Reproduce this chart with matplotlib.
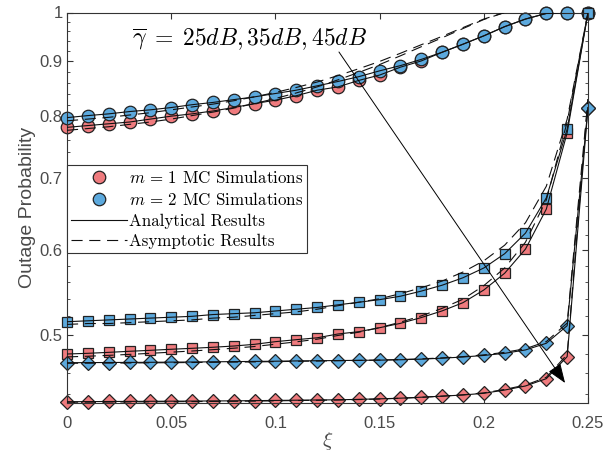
import matplotlib
matplotlib.use("Agg")
import matplotlib.pyplot as plt
from matplotlib.lines import Line2D
from matplotlib.ticker import FixedLocator, NullFormatter

plt.rcParams['mathtext.fontset'] = 'cm'
plt.rcParams['axes.unicode_minus'] = False

# xi grid
xi = [0.00, 0.01, 0.02, 0.03, 0.04, 0.05, 0.06, 0.07, 0.08, 0.09, 0.10, 0.11, 0.12,
      0.13, 0.14, 0.15, 0.16, 0.17, 0.18, 0.19, 0.20, 0.21, 0.22, 0.23, 0.24, 0.25]

# 25 dB (circles)
c25_m1 = [0.781, 0.784, 0.787, 0.790, 0.795, 0.800, 0.804, 0.809, 0.815, 0.822, 0.828, 0.836, 0.846,
          0.852, 0.864, 0.874, 0.889, 0.901, 0.918, 0.934, 0.951, 0.970, 0.986, 0.998, 1.0, 1.0]
c25_m2 = [0.7975, 0.801, 0.804, 0.808, 0.811, 0.815, 0.820, 0.824, 0.829, 0.834, 0.840, 0.846, 0.854,
          0.862, 0.871, 0.882, 0.892, 0.904, 0.918, 0.934, 0.951, 0.970, 0.986, 0.998, 1.0, 1.0]
a25_m1 = [0.776, 0.779, 0.782, 0.786, 0.790, 0.795, 0.801, 0.807, 0.814, 0.822, 0.831, 0.841, 0.852,
          0.865, 0.879, 0.894, 0.911, 0.929, 0.947, 0.966, 0.985, 1.0, 1.0, 1.0, 1.0, 1.0]
a25_m2 = [0.792, 0.795, 0.798, 0.802, 0.806, 0.811, 0.816, 0.821, 0.827, 0.834, 0.842, 0.851, 0.861,
          0.873, 0.886, 0.900, 0.916, 0.933, 0.950, 0.968, 0.986, 1.0, 1.0, 1.0, 1.0, 1.0]

# 35 dB (squares)
c35_m1 = [0.4795, 0.4802, 0.4812, 0.4823, 0.4833, 0.4844, 0.4854, 0.4865, 0.4878, 0.4896, 0.4924, 0.4945, 0.4965,
          0.5006, 0.5031, 0.5074, 0.5122, 0.5186, 0.5261, 0.5355, 0.5503, 0.5705, 0.6010, 0.6550, 0.7719, 1.0]
c35_m2 = [0.514, 0.515, 0.516, 0.517, 0.518, 0.519, 0.520, 0.522, 0.523, 0.524, 0.526, 0.528, 0.530,
          0.533, 0.536, 0.539, 0.543, 0.549, 0.556, 0.565, 0.577, 0.595, 0.622, 0.671, 0.778, 1.0]
a35_m1 = [0.4765, 0.4772, 0.4781, 0.4791, 0.4802, 0.4814, 0.4826, 0.4840, 0.4855, 0.4873, 0.4897, 0.4922, 0.4950,
          0.4990, 0.5025, 0.5075, 0.5135, 0.5205, 0.5290, 0.5395, 0.5555, 0.5770, 0.6100, 0.6680, 0.7900, 1.0]
a35_m2 = [0.511, 0.512, 0.512, 0.513, 0.514, 0.515, 0.516, 0.518, 0.519, 0.521, 0.523, 0.525, 0.528,
          0.532, 0.536, 0.540, 0.546, 0.553, 0.561, 0.572, 0.586, 0.606, 0.636, 0.688, 0.795, 1.0]

# 45 dB (diamonds)
c45_m1 = [0.4327, 0.4328, 0.4329, 0.4330, 0.4331, 0.4332, 0.4333, 0.4334, 0.4335, 0.4337, 0.4339, 0.4341, 0.4343,
          0.4345, 0.4349, 0.4354, 0.4360, 0.4369, 0.4379, 0.4390, 0.4406, 0.4437, 0.4476, 0.4547, 0.4768, 0.815]
c45_m2 = [0.4706, 0.4707, 0.4708, 0.4709, 0.4710, 0.4712, 0.4713, 0.4715, 0.4717, 0.4719, 0.4721, 0.4724, 0.4726,
          0.4728, 0.4730, 0.4732, 0.4736, 0.4742, 0.4752, 0.4764, 0.4780, 0.4802, 0.4837, 0.4907, 0.5096, 0.815]
a45_m1 = [0.4322, 0.4323, 0.4324, 0.4325, 0.4326, 0.4327, 0.4328, 0.4330, 0.4331, 0.4333, 0.4335, 0.4338, 0.4340,
          0.4343, 0.4347, 0.4352, 0.4359, 0.4368, 0.4379, 0.4392, 0.4410, 0.4443, 0.4485, 0.4560, 0.4790, 0.830]
a45_m2 = [0.4700, 0.4701, 0.4702, 0.4703, 0.4705, 0.4706, 0.4708, 0.4710, 0.4712, 0.4714, 0.4717, 0.4720, 0.4723,
          0.4726, 0.4729, 0.4733, 0.4738, 0.4745, 0.4755, 0.4768, 0.4786, 0.4812, 0.4850, 0.4925, 0.5125, 0.830]

xticks = [0, 0.05, 0.1, 0.15, 0.2, 0.25]
xticklabels = ['0', '0.05', '0.1', '0.15', '0.2', '0.25']
yticks = [0.5, 0.6, 0.7, 0.8, 0.9, 1.0]
yticklabels = ['0.5', '0.6', '0.7', '0.8', '0.9', '1']

red = '#EF7B7E'
blue = '#5CA9DD'
grey = '#4a4a4a'
dash = (10, 6)

fig = plt.figure(figsize=(6.03, 4.51), dpi=100)
ax = fig.add_axes([67/603, 1 - 403/451, 521/603, 390.5/451])
ax.set_yscale('log')

groups = [
    (c25_m1, c25_m2, a25_m1, a25_m2, 'o', 9.0),
    (c35_m1, c35_m2, a35_m1, a35_m2, 's', 7.8),
    (c45_m1, c45_m2, a45_m1, a45_m2, 'D', 7.0),
]
for s1, s2, as1, as2, mk, ms in groups:
    ax.plot(xi, s1, ls='none', marker=mk, ms=ms, mfc=red, mec='#222222', mew=0.9, zorder=2, clip_on=False)
    ax.plot(xi, s2, ls='none', marker=mk, ms=ms, mfc=blue, mec='#222222', mew=0.9, zorder=2, clip_on=False)
    ax.plot(xi, s1, color='#111111', lw=0.8, zorder=3)
    ax.plot(xi, s2, color='#111111', lw=0.8, zorder=3)
    ax.plot(xi, as1, color='#111111', lw=0.8, dashes=dash, zorder=3)
    ax.plot(xi, as2, color='#111111', lw=0.8, dashes=dash, zorder=3)

ax.set_xlim(0, 0.25)
ax.set_ylim(0.4315, 1.0)
ax.set_xticks(xticks)
ax.set_xticklabels(xticklabels)
ax.yaxis.set_major_locator(FixedLocator(yticks))
ax.set_yticklabels(yticklabels)
minor = [v / 100 for v in range(44, 100, 2) if v % 10 != 0]
ax.yaxis.set_minor_locator(FixedLocator(minor))
ax.yaxis.set_minor_formatter(NullFormatter())

for sp in ax.spines.values():
    sp.set_color('#333333')
    sp.set_linewidth(0.8)
ax.tick_params(which='both', direction='in', top=True, right=True, colors='#333333',
               labelcolor=grey, labelsize=12)
ax.tick_params(which='major', length=4)
ax.tick_params(which='minor', length=2.5)
ax.tick_params(axis='x', which='major', pad=9)
ax.tick_params(axis='y', which='major', pad=3)
for lab in ax.get_xticklabels() + ax.get_yticklabels():
    lab.set_family('Liberation Sans')

ax.set_ylabel('Outage Probability', fontsize=14, color=grey, family='Liberation Sans', labelpad=3)
ax.set_xlabel(r'$\xi$', fontsize=15, color=grey, labelpad=0)

# annotation arrow
ax.annotate('', xy=(0.239, 0.4505), xytext=(0.1305, 0.9185),
            arrowprops=dict(arrowstyle='-|>,head_length=1.2,head_width=0.45', color='black', lw=0.7,
                            shrinkA=0, shrinkB=0))
ax.text(0.0878, 0.944, r'$\overline{\gamma}\; =\; 25dB, 35dB, 45dB$', fontsize=17, ha='center', va='center')

handles = [
    Line2D([], [], ls='none', marker='o', ms=9.0, mfc=red, mec='#222222', mew=0.9),
    Line2D([], [], ls='none', marker='o', ms=9.0, mfc=blue, mec='#222222', mew=0.9),
    Line2D([], [], color='#111111', lw=0.8),
    Line2D([], [], color='#111111', lw=0.8, dashes=dash),
]
labels = [r'$m\, =\, 1$ MC Simulations', r'$m\, =\, 2$ MC Simulations', 'Analytical Results', 'Asymptotic Results']
leg = ax.legend(handles, labels, loc='upper left', bbox_to_anchor=(0.0, 0.61), borderaxespad=0,
                fancybox=False, edgecolor='#333333', framealpha=1, handlelength=3.3,
                handletextpad=0.15, labelspacing=0.32, borderpad=0.22,
                prop={'family': 'cmr10', 'size': 12.2})
leg.get_frame().set_linewidth(0.8)

fig.savefig('out.png', dpi=100)
